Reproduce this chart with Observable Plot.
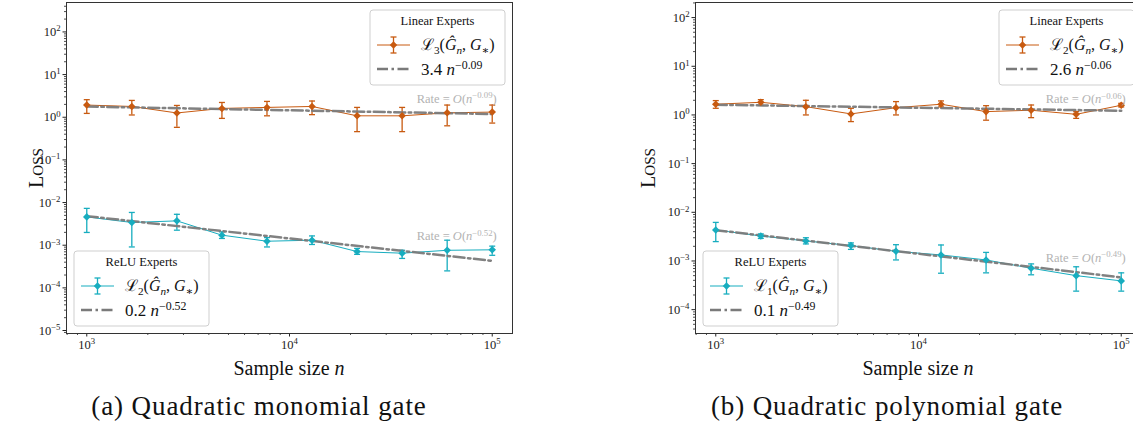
<!DOCTYPE html>
<html><head><meta charset="utf-8">
<script src="https://cdn.jsdelivr.net/npm/d3@7"></script>
<script src="https://cdn.jsdelivr.net/npm/@observablehq/plot@0.6"></script>
<style>
body{margin:0;background:#fff;}
#root{position:relative;width:1133px;height:423px;overflow:hidden;font-family:"Liberation Serif","Tinos","Times New Roman","DejaVu Serif",serif;color:#111;}
.panel{position:absolute;top:0;}
.ovl{position:absolute;top:0;pointer-events:none;overflow:visible;}
.lbl{position:absolute;white-space:nowrap;transform:translate(-50%,-50%);line-height:1;}
svg text{font-family:"Liberation Serif","Tinos","Times New Roman","DejaVu Serif",serif;}
</style></head><body><div id="root"></div>
<script>
// ---------- data ----------
const sampleSize = [1000, 1668, 2783, 4642, 7743, 12915, 21544, 35938, 59948, 100000];
const fitN = [1000, 100000];

// (a) Quadratic monomial gate
const aLinLoss = [1.93, 1.79, 1.26, 1.61, 1.70, 1.79, 1.08, 1.08, 1.27, 1.32];
const aLinLo   = [1.23, 1.13, 0.58, 0.94, 1.08, 1.15, 0.46, 0.46, 0.63, 0.73];
const aLinHi   = [2.58, 2.48, 1.89, 2.22, 2.35, 2.40, 1.70, 1.70, 1.93, 1.93];
const aLinFit  = [1.78, 1.19];
const aReluLoss = [4.61e-3, 3.41e-3, 3.72e-3, 1.72e-3, 1.24e-3, 1.31e-3, 0.71e-3, 0.65e-3, 0.76e-3, 0.78e-3];
const aReluLo   = [1.99e-3, 0.91e-3, 2.25e-3, 1.44e-3, 0.91e-3, 1.04e-3, 0.61e-3, 0.49e-3, 0.25e-3, 0.58e-3];
const aReluHi   = [7.3e-3, 5.86e-3, 5.3e-3, 2.05e-3, 1.51e-3, 1.65e-3, 0.84e-3, 0.76e-3, 1.31e-3, 0.95e-3];
const aReluFit  = [4.8e-3, 4.3e-4];

// (b) Quadratic polynomial gate
const bLinLoss = [1.66, 1.82, 1.48, 1.05, 1.41, 1.66, 1.17, 1.25, 1.03, 1.58];
const bLinLo   = [1.37, 1.57, 1.00, 0.73, 1.00, 1.46, 0.78, 0.88, 0.85, 1.46];
const bLinHi   = [1.97, 2.06, 2.00, 1.37, 1.88, 1.94, 1.55, 1.60, 1.17, 1.73];
const bLinFit  = [1.62, 1.22];
const bReluLoss = [4.34e-3, 3.26e-3, 2.58e-3, 2.07e-3, 1.58e-3, 1.33e-3, 1.05e-3, 0.71e-3, 0.50e-3, 0.39e-3];
const bReluLo   = [2.5e-3, 2.9e-3, 2.24e-3, 1.73e-3, 1.05e-3, 0.56e-3, 0.57e-3, 0.52e-3, 0.24e-3, 0.24e-3];
const bReluHi   = [6.2e-3, 3.6e-3, 3.0e-3, 2.35e-3, 2.16e-3, 2.13e-3, 1.50e-3, 0.87e-3, 0.76e-3, 0.57e-3];
const bReluFit  = [4.3e-3, 4.6e-4];

// labels
const legendTitles = ["Linear Experts", "ReLU Experts"];
const aLossSub = ["3", "2"];
const bLossSub = ["2", "1"];
const aFitCoef = ["3.4", "0.2"], aFitExp = ["−0.09", "−0.52"];
const bFitCoef = ["2.6", "0.1"], bFitExp = ["−0.06", "−0.49"];
const captions = ["(a) Quadratic monomial gate", "(b) Quadratic polynomial gate"];
const xTickExp = [3, 4, 5];
const aYTickExp = [-5, -4, -3, -2, -1, 0, 1, 2];
const bYTickExp = [-4, -3, -2, -1, 0, 1, 2];

// ---------- styles ----------
const SERIF = '"Liberation Serif","Tinos","Times New Roman","DejaVu Serif",serif';
const ORANGE = "#c85a10", TEAL = "#17adbf", FITC = "#7a7a7a";
const DASH = "11,3.5,2.5,3.5";

function rows(series, loss, lo, hi) {
  return sampleSize.map((n, i) => ({series, n, loss: loss[i], lo: lo[i], hi: hi[i]}));
}
function fitRows(series, fit) { return fitN.map((n, i) => ({series, n, v: fit[i]})); }
function minorTicks(lo, hi) {
  const out = [];
  for (let k = Math.floor(Math.log10(lo)); k <= Math.ceil(Math.log10(hi)); k++)
    for (let m = 2; m <= 9; m++) { const v = m * 10 ** k; if (v >= lo && v <= hi) out.push(v); }
  return out;
}
const capSymbol = {draw(ctx, size) { const r = Math.sqrt(size / Math.PI); ctx.moveTo(-r, 0); ctx.lineTo(r, 0); }};

function math(text, segs, size) {
  let shift = 0;
  segs.forEach(sg => {
    const target = sg.sub ? size * 0.22 : sg.sup ? -size * 0.36 : 0;
    const t = text.append("tspan").text(sg.s);
    if (target - shift !== 0) t.attr("dy", target - shift);
    if (sg.sub || sg.sup) t.attr("font-size", size * 0.7);
    if (sg.it) t.attr("font-style", "italic");
    shift = target;
  });
}

const panels = [
  {left: 0, width: 520, marginLeft: 66, marginRight: 8, yDomain: [10 ** -5.07, 10 ** 2.69], yExp: aYTickExp,
   lin: rows("lin", aLinLoss, aLinLo, aLinHi), relu: rows("relu", aReluLoss, aReluLo, aReluHi),
   linFit: aLinFit, reluFit: aReluFit, sub: aLossSub, coef: aFitCoef, expo: aFitExp,
   rateDy: [-15, -24], lossX: 36, caption: captions[0], captionX: 259},
  {left: 600, width: 560, marginLeft: 95, marginRight: 19, yDomain: [10 ** -4.49, 10 ** 2.31], yExp: bYTickExp,
   lin: rows("lin", bLinLoss, bLinLo, bLinHi), relu: rows("relu", bReluLoss, bReluLo, bReluHi),
   linFit: bLinFit, reluFit: bReluFit, sub: bLossSub, coef: bFitCoef, expo: bFitExp,
   rateDy: [-11, -19], lossX: 648, caption: captions[1], captionX: 887}
];

const root = document.getElementById("root");
const H = 360, MT = 2, MB = 27;
const xDomain = [10 ** 2.9, 10 ** 5.1];

panels.forEach(p => {
  const data = p.lin.concat(p.relu);
  const fits = fitRows("lin", p.linFit).concat(fitRows("relu", p.reluFit));
  const yMajor = p.yExp.map(e => 10 ** e);
  const xMajor = xTickExp.map(e => 10 ** e);
  const fmt = d => "10^" + Math.round(Math.log10(d));
  const plot = Plot.plot({
    width: p.width, height: H, marginLeft: p.marginLeft, marginRight: p.marginRight, marginTop: MT, marginBottom: MB,
    x: {type: "log", domain: xDomain, axis: null, label: null},
    y: {type: "log", domain: p.yDomain, axis: null, label: null},
    color: {domain: ["lin", "relu"], range: [ORANGE, TEAL]},
    style: {fontFamily: SERIF, fontSize: "12.5px", color: "#222", background: "transparent", overflow: "visible"},
    marks: [
      Plot.axisY(minorTicks(...p.yDomain), {tickSize: 2, tickFormat: () => "", label: null, strokeWidth: 0.8}),
      Plot.axisY(yMajor, {tickSize: 3.5, tickPadding: 2.5, tickFormat: fmt, label: null}),
      Plot.axisX(minorTicks(...xDomain), {tickSize: 2, tickFormat: () => "", label: null, strokeWidth: 0.8}),
      Plot.axisX(xMajor, {tickSize: 3.5, tickPadding: 3, tickFormat: fmt, label: null}),
      Plot.line(data, {x: "n", y: "loss", z: "series", stroke: "series", strokeWidth: 1}),
      Plot.ruleX(data, {x: "n", y1: "lo", y2: "hi", stroke: "series", strokeWidth: 1.3}),
      Plot.dot(data, {x: "n", y: "lo", symbol: capSymbol, r: 3, stroke: "series", fill: "none", strokeWidth: 1.3}),
      Plot.dot(data, {x: "n", y: "hi", symbol: capSymbol, r: 3, stroke: "series", fill: "none", strokeWidth: 1.3}),
      Plot.line(fits, {x: "n", y: "v", z: "series", stroke: FITC, strokeWidth: 2.5, strokeDasharray: DASH, strokeOpacity: 0.95}),
      Plot.dot(data, {x: "n", y: "loss", symbol: "diamond2", r: 3.4, fill: "series", stroke: "none"}),
      Plot.frame({stroke: "#333", strokeWidth: 1})
    ]
  });
  plot.classList.add("panel");
  plot.style.left = p.left + "px";
  root.appendChild(plot);

  d3.select(plot).selectAll('g[aria-label$="tick label"] text').each(function () {
    const s = this.textContent;
    if (!s || s.indexOf("^") < 0) return;
    const e = s.split("^")[1].replace("-", "−");
    this.textContent = "";
    math(d3.select(this), [{s: "10"}, {s: e, sup: true}], 12.5);
  });

  const xs = plot.scale("x"), ys = plot.scale("y");
  const fL = p.marginLeft, fR = p.width - p.marginRight, fT = MT, fB = H - MB;
  const svg = d3.select(root).append("svg").attr("class", "ovl")
    .style("left", p.left + "px").attr("width", p.width).attr("height", H);

  const lastN = sampleSize[sampleSize.length - 1];
  [[p.linFit, p.expo[0], p.rateDy[0]], [p.reluFit, p.expo[1], p.rateDy[1]]].forEach(([fit, ex, dy]) => {
    const t = svg.append("text").attr("x", xs.apply(lastN) + 5).attr("y", ys.apply(fit[1]) + dy + 4)
      .attr("text-anchor", "end").attr("fill", "#b3b3b3").attr("font-size", 12.5);
    math(t, [{s: "Rate = "}, {s: "O", it: true}, {s: "("}, {s: "n", it: true}, {s: ex, sup: true}, {s: ")"}], 12.5);
  });

  const BW = 135, BH = 75, FS = 16;
  function legend(x0, y0, k, color) {
    const g = svg.append("g");
    g.append("rect").attr("x", x0).attr("y", y0).attr("width", BW).attr("height", BH).attr("rx", 3)
      .attr("fill", "white").attr("fill-opacity", 0.85).attr("stroke", "#cfcfcf").attr("stroke-width", 1);
    g.append("text").attr("x", x0 + BW / 2).attr("y", y0 + 15).attr("text-anchor", "middle")
      .attr("font-size", 12.5).attr("fill", "#111").text(legendTitles[k]);
    const y1 = y0 + 35, lx0 = x0 + 7, lx1 = x0 + 40, cx = (lx0 + lx1) / 2;
    g.append("line").attr("x1", lx0).attr("x2", lx1).attr("y1", y1).attr("y2", y1).attr("stroke", color).attr("stroke-width", 1);
    g.append("line").attr("x1", cx).attr("x2", cx).attr("y1", y1 - 8).attr("y2", y1 + 8).attr("stroke", color).attr("stroke-width", 1.3);
    [y1 - 8, y1 + 8].forEach(yy => g.append("line").attr("x1", cx - 3).attr("x2", cx + 3).attr("y1", yy).attr("y2", yy).attr("stroke", color).attr("stroke-width", 1.3));
    g.append("path").attr("d", d3.symbol(d3.symbolDiamond2, 3.4 * 3.4 * Math.PI)()).attr("transform", `translate(${cx},${y1})`).attr("fill", color);
    const t1 = g.append("text").attr("x", x0 + 51).attr("y", y1 + 5).attr("font-size", FS).attr("fill", "#111");
    math(t1, [{s: "ℒ"}, {s: p.sub[k], sub: true}, {s: "("}, {s: "Ĝ", it: true}, {s: "n", it: true, sub: true}, {s: ", "}, {s: "G", it: true}, {s: "∗", sub: true}, {s: ")"}], FS);
    const y2 = y0 + 59;
    g.append("line").attr("x1", lx0).attr("x2", lx1).attr("y1", y2).attr("y2", y2).attr("stroke", FITC).attr("stroke-width", 2.5).attr("stroke-dasharray", DASH);
    const t2 = g.append("text").attr("x", x0 + 51).attr("y", y2 + 6).attr("font-size", FS + 1).attr("fill", "#111");
    math(t2, [{s: p.coef[k] + " "}, {s: "n", it: true}, {s: p.expo[k], sup: true}], FS + 1);
  }
  legend(fR - 7 - BW, fT + 8, 0, ORANGE);
  legend(fL + 8, fB - 7 - BH, 1, TEAL);

  const xl = document.createElement("div");
  xl.className = "lbl"; xl.style.left = (p.left + (fL + fR) / 2) + "px"; xl.style.top = "368px"; xl.style.fontSize = "20px";
  xl.innerHTML = "Sample size <i>n</i>";
  root.appendChild(xl);
  const yl = document.createElement("div");
  yl.className = "lbl"; yl.style.left = p.lossX + "px"; yl.style.top = ((fT + fB) / 2) + "px";
  yl.style.transform = "translate(-50%,-50%) rotate(-90deg)";
  yl.innerHTML = '<span style="font-size:20px">L</span><span style="font-size:15px">OSS</span>';
  root.appendChild(yl);
  const cap = document.createElement("div");
  cap.className = "lbl"; cap.style.left = p.captionX + "px"; cap.style.top = "406px"; cap.style.fontSize = "27px"; cap.style.letterSpacing = "0.9px";
  cap.textContent = p.caption;
  root.appendChild(cap);
});
</script></body></html>
